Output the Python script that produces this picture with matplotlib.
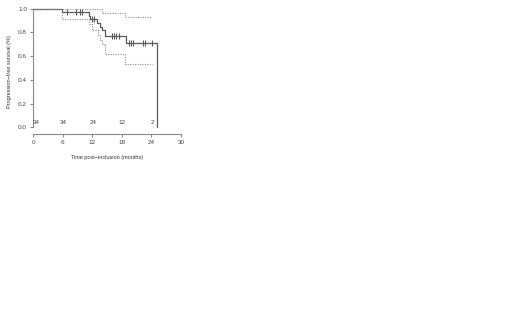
import matplotlib
matplotlib.use("Agg")
import matplotlib.pyplot as plt

plt.rcParams["font.family"] = ["Liberation Sans", "DejaVu Sans"]

# Kaplan-Meier estimate (step changes)
km_times = [0, 5.8, 11.3, 11.6, 12.9, 13.5, 13.9, 14.6, 18.8, 25.2]
km_surv = [1.0, 0.971, 0.941, 0.910, 0.880, 0.850, 0.820, 0.770, 0.710, 0.0]

# censoring marks
cens_times = [6.8, 8.7, 9.4, 9.8, 12.0, 12.4, 15.9, 16.4, 16.9, 17.5,
              19.5, 19.8, 20.2, 22.2, 22.7, 24.1]
cens_surv = [0.971, 0.971, 0.971, 0.971, 0.910, 0.910, 0.770, 0.770, 0.770, 0.770,
             0.710, 0.710, 0.710, 0.710, 0.710, 0.710]

# confidence bands
upper_times = [0, 13.9, 18.7, 24.2]
upper_vals = [1.0, 0.965, 0.930, 0.930]
lower_times = [0, 5.8, 11.3, 11.9, 13.1, 13.5, 13.9, 14.6, 18.7, 24.2]
lower_vals = [1.0, 0.915, 0.870, 0.820, 0.780, 0.740, 0.700, 0.620, 0.535, 0.535]

# number at risk
risk_times = [0, 6, 12, 18, 24]
risk_counts = ["34", "34", "24", "12", "2"]

x_ticks = [0, 6, 12, 18, 24, 30]
y_ticks = [0.0, 0.2, 0.4, 0.6, 0.8, 1.0]

fig = plt.figure(figsize=(5.2, 3.25), dpi=100)
ax = fig.add_axes([0.064, 0.588, 0.284, 0.385])

axis_col = "#8a8a8a"
curve_col = "#5a5a5a"
band_col = "#8a8a8a"

ax.plot(km_times, km_surv, drawstyle="steps-post", color=curve_col, lw=0.9, clip_on=False)
ax.plot(cens_times, cens_surv, ls="none", marker="|", ms=4, mew=0.8, color=curve_col, clip_on=False)
ax.plot(upper_times, upper_vals, drawstyle="steps-post", color=band_col, lw=0.8, ls=(0, (1, 1.2)), clip_on=False)
ax.plot(lower_times, lower_vals, drawstyle="steps-post", color=band_col, lw=0.8, ls=(0, (1, 1.2)), clip_on=False)

for t, n in zip(risk_times, risk_counts):
    xpos = t + 0.6 if t == 0 else t + 0.1
    ax.text(xpos, 0.04, n, fontsize=4.5, color="#444444", ha="center", va="center")

ax.set_xlim(0, 30)
ax.set_ylim(-0.055, 1.0)
ax.set_xticks(x_ticks)
ax.set_yticks(y_ticks)
ax.set_yticklabels([f"{v:.1f}" for v in y_ticks])
for s in ["top", "right"]:
    ax.spines[s].set_visible(False)
ax.spines["left"].set_bounds(0, 1)
ax.spines["bottom"].set_bounds(0, 30)
for s in ["left", "bottom"]:
    ax.spines[s].set_color(axis_col)
    ax.spines[s].set_linewidth(0.8)
ax.tick_params(axis="both", colors=axis_col, labelcolor="#444444", labelsize=4.6,
               length=2.5, width=0.8, pad=2)
ax.set_xlabel("Time post\u2212inclusion (months)", fontsize=4.0, color="#333333", labelpad=7)
ax.set_ylabel("Progression\u2212free survival (%)", fontsize=4.0, color="#333333", labelpad=4)

fig.savefig("out.png", dpi=100)
